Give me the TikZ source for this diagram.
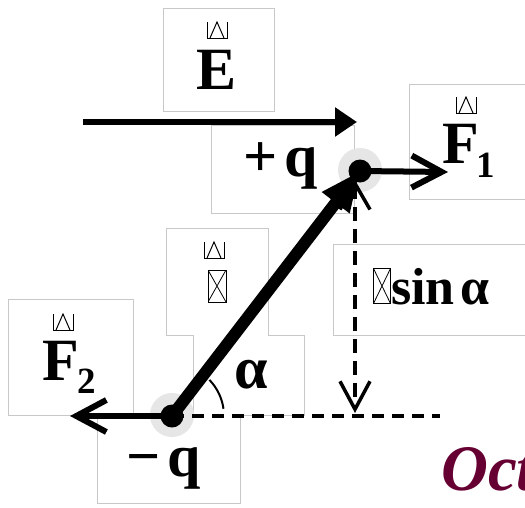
\documentclass[tikz,border=0pt]{standalone}
\usepackage{fontspec}
\setmainfont{Liberation Serif}
\usetikzlibrary{arrows.meta}
\definecolor{boxgray}{HTML}{C8C8C8}
\definecolor{halogray}{HTML}{E6E6E6}
\definecolor{octcolor}{HTML}{660033}
\tikzset{
  frame/.style={draw=boxgray, line width=0.9pt, fill=white},
  big/.style={font=\fontsize{60}{64}\selectfont\bfseries, inner sep=0pt},
  sub/.style={font=\fontsize{37}{40}\selectfont\bfseries, inner sep=0pt},
  mid/.style={font=\fontsize{52}{56}\selectfont\bfseries, inner sep=0pt},
  octstyle/.style={font=\fontsize{65}{70}\selectfont\bfseries\itshape, text=octcolor, inner sep=0pt},
  halo/.style={circle, fill=halogray, minimum size=44pt, inner sep=0pt},
  dot/.style={circle, fill=black, minimum size=23pt, inner sep=0pt},
  field/.style={line width=6pt, -{Triangle[length=22pt,width=28pt]}},
  force/.style={line width=6pt, -{Straight Barb[length=30pt,width=32pt]}},
  rod/.style={line width=12pt, -{Triangle[length=40pt,width=32pt]}},
  guide/.style={line width=4pt, dash pattern=on 12pt off 8pt},
  vguide/.style={line width=3.5pt, dash pattern=on 14pt off 8pt,
    {Straight Barb[length=26pt,width=30pt]}-{Straight Barb[length=28pt,width=30pt]}},
  arcline/.style={line width=2pt},
  notdef/.style={draw, line width=1pt, inner sep=0pt,
    path picture={\draw[line width=0.8pt] (path picture bounding box.north west) -- (path picture bounding box.south east)
      (path picture bounding box.south west) -- (path picture bounding box.north east);}},
  accentglyph/.pic={
    \draw[line width=1pt] (-10,-16) -- (-10,0) -- (10,0) -- (10,-16);
    \draw[line width=1pt] (-7,0) -- (0,-16) -- (7,0);}
}
\begin{document}
\begin{tikzpicture}[x=1pt,y=-1pt]
\useasboundingbox[fill=white] (0,0) rectangle (525,507);
% frames
\draw[frame] (163,8) rectangle (274,111);
\draw[frame] (409,84) rectangle (530,199);
\draw[frame] (211,125) rectangle (354,213);
\draw[frame] (333,244) rectangle (530,335);
\draw[frame] (166,228) -- (268,228) -- (268,335) -- (304,335) -- (304,415) -- (240,415)
  -- (240,503) -- (97,503) -- (97,415) -- (8,415) -- (8,299) -- (133,299) -- (133,415)
  -- (193,415) -- (193,335) -- (166,335) -- cycle;
% halos
\node[halo] (hp) at (360,170) {};
\node[halo] (hm) at (172,415) {};
% coordinates
\coordinate (qp) at (360,171);
\coordinate (qm) at (172,416);
\coordinate (etail) at (83,122);
\coordinate (ehead) at (357,122);
\coordinate (f1tip) at (448,172);
\coordinate (f2tip) at (70,416);
\coordinate (hend) at (440,416);
\coordinate (vtop) at (355,180);
\coordinate (vbot) at (355,413);
% guides
\draw[guide] (qm) -- (hend);
\draw[vguide] (vtop) -- (vbot);
% arrows
\draw[field] (etail) -- (ehead);
\draw[force] (qp) -- (f1tip);
\draw[force] (qm) -- (f2tip);
\draw[rod] (qm) -- (qp);
% charges
\node[dot] (dp) at (qp) {};
\node[dot] (dm) at (qm) {};
% angle
\draw[arcline] ([shift={(-8:52)}]qm) arc[start angle=-8, end angle=-44, radius=52];
% texts
\node[big, anchor=base] (Elabel) at (217,89) {E};
\pic (Eacc) at (217,38) {accentglyph};
\node[big, anchor=base west] (F1label) at (442,163) {F};
\node[sub, anchor=base west] (F1sub) at (476,177) {1};
\pic (F1acc) at (466,113) {accentglyph};
\node[big, anchor=base west] (F2label) at (42,380) {F};
\node[sub, anchor=base west] (F2sub) at (77,393) {2};
\pic (F2acc) at (63,330) {accentglyph};
\node[big, anchor=base] (qplabel) at (281,176) {+\kern7pt q};
\node[big, anchor=base] (qmlabel) at (164,476) {−\kern7pt q};
\node[big, anchor=base] (alpha) at (251,388) {α};
\pic (pacc) at (214,258) {accentglyph};
\node[notdef, minimum width=18pt, minimum height=32pt] (pglyph) at (217,286) {};
\node[notdef, minimum width=17pt, minimum height=35pt] (sglyph) at (382,286) {};
\node[mid, anchor=base west] (sinlabel) at (391,304) {sin\kern6ptα};
\node[octstyle, anchor=base west] (oct) at (441,490) {Oct};
\end{tikzpicture}
\end{document}
